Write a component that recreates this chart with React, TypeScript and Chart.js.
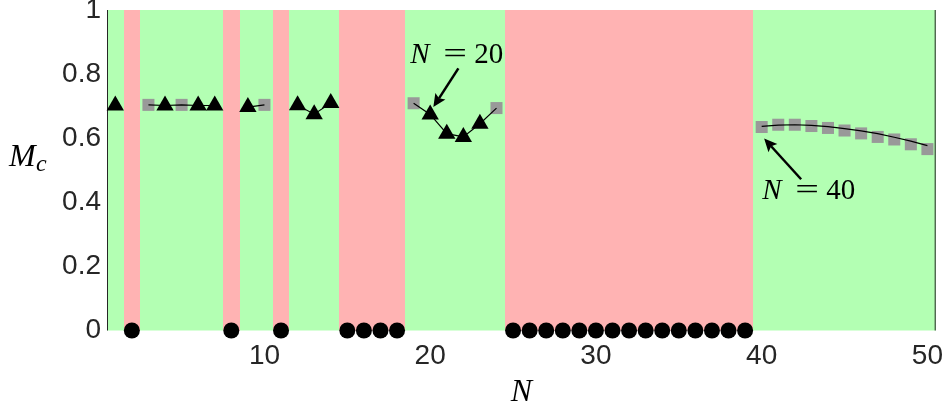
import { useEffect, useRef } from "react";
import { Chart, registerables } from "chart.js";

Chart.register(...registerables);

// ---- data ----
const X_MIN = 0.5;
const X_MAX = 50.5;
const X_TICKS = [10, 20, 30, 40, 50];
const Y_TICKS = [0, 0.2, 0.4, 0.6, 0.8, 1];

// N values whose band is red (Mc = 0, black circles)
const UNSTABLE_N = [2, 8, 11, 15, 16, 17, 18, 25, 26, 27, 28, 29, 30, 31, 32, 33, 34, 35, 36, 37, 38, 39];

// black triangles
const TRIANGLE_N = [1, 4, 6, 7, 9, 12, 13, 14, 20, 21, 22, 23];
const TRIANGLE_MC = [0.702, 0.702, 0.702, 0.702, 0.697, 0.703, 0.675, 0.71, 0.674, 0.614, 0.604, 0.645];

// gray squares
const SQUARE_N = [3, 5, 10, 19, 24, 40, 41, 42, 43, 44, 45, 46, 47, 48, 49, 50];
const SQUARE_MC = [0.704, 0.704, 0.704, 0.709, 0.694, 0.635, 0.642, 0.642, 0.638, 0.632, 0.624, 0.615, 0.604, 0.596, 0.581, 0.566];

// connected runs of points (black thin line)
const LINE_GROUPS = [
  [3, 4, 5, 6, 7],
  [9, 10],
  [12, 13, 14],
  [19, 20, 21, 22, 23, 24],
];
// smooth fitted curve for N = 40..50
const FIT_N = [40, 41, 42, 43, 44, 45, 46, 47, 48, 49, 50];
const FIT_MC = [0.637, 0.641, 0.642, 0.64, 0.636, 0.63, 0.623, 0.614, 0.603, 0.591, 0.577];

// annotations: text anchor (left, baseline), arrow tail and tip (data coords)
const ANNOTATIONS = [
  { label: "20", textX: 18.79, textY: 0.836, tailX: 21.7, tailY: 0.818, tipX: 20.19, tipY: 0.697 },
  { label: "40", textX: 40.03, textY: 0.4096, tailX: 42.38, tailY: 0.472, tipX: 40.15, tipY: 0.599 },
];

const GREEN = "rgb(179,255,179)";
const RED = "rgb(255,179,179)";
const AXIS_COLOR = "#262626";
const TICK_FONT = "'Liberation Sans', Arial, Helvetica, sans-serif";
const MATH_FONT = "'Liberation Serif', 'Times New Roman', serif";

function valueAt(n: number): number | null {
  const ti = TRIANGLE_N.indexOf(n);
  if (ti >= 0) return TRIANGLE_MC[ti];
  const si = SQUARE_N.indexOf(n);
  if (si >= 0) return SQUARE_MC[si];
  return null;
}

function buildLineData() {
  const pts: { x: number; y: number | null }[] = [];
  LINE_GROUPS.forEach((g) => {
    g.forEach((n) => pts.push({ x: n, y: valueAt(n) }));
    pts.push({ x: g[g.length - 1] + 0.5, y: null });
  });
  FIT_N.forEach((n, i) => pts.push({ x: n, y: FIT_MC[i] }));
  return pts;
}

const bandsPlugin = {
  id: "bands",
  beforeDatasetsDraw(chart: any) {
    const { ctx, chartArea, scales } = chart;
    const x = scales.x;
    const y = scales.y;
    const top = y.getPixelForValue(1);
    const bottom = y.getPixelForValue(0);
    ctx.save();
    const first = Math.ceil(X_MIN);
    const last = Math.floor(X_MAX);
    let runStart = first;
    let runRed = UNSTABLE_N.includes(first);
    for (let n = first + 1; n <= last + 1; n++) {
      const isRed = n <= last ? UNSTABLE_N.includes(n) : !runRed;
      if (isRed !== runRed) {
        const x0 = Math.round(x.getPixelForValue(runStart - 0.5));
        const x1 = Math.round(x.getPixelForValue(n - 0.5));
        ctx.fillStyle = runRed ? RED : GREEN;
        ctx.fillRect(x0, top, x1 - x0, bottom - top);
        runStart = n;
        runRed = isRed;
      }
    }
    // left & right axis lines
    ctx.strokeStyle = AXIS_COLOR;
    ctx.lineWidth = 1;
    ctx.beginPath();
    ctx.moveTo(chartArea.left + 0.5, chartArea.top);
    ctx.lineTo(chartArea.left + 0.5, chartArea.bottom);
    ctx.moveTo(chartArea.right - 0.5, chartArea.top);
    ctx.lineTo(chartArea.right - 0.5, chartArea.bottom);
    ctx.stroke();
    ctx.restore();
  },
  afterDraw(chart: any) {
    const { ctx, chartArea, scales } = chart;
    const x = scales.x;
    const y = scales.y;
    ctx.save();
    ctx.fillStyle = "#000";
    ctx.textBaseline = "alphabetic";

    // y-axis title M_c
    const midY = (chartArea.top + chartArea.bottom) / 2;
    ctx.font = `italic 32px ${MATH_FONT}`;
    ctx.textAlign = "left";
    ctx.fillText("M", chartArea.left - 98, midY - 4);
    ctx.font = `italic 24px ${MATH_FONT}`;
    ctx.fillText("c", chartArea.left - 71, midY + 1);

    // x-axis title N
    ctx.font = `italic 32px ${MATH_FONT}`;
    ctx.textAlign = "center";
    ctx.fillText("N", (chartArea.left + chartArea.right) / 2, chartArea.bottom + 70);

    // annotations
    ANNOTATIONS.forEach((a) => {
      const tx = x.getPixelForValue(a.textX);
      const ty = y.getPixelForValue(a.textY);
      ctx.textAlign = "left";
      ctx.font = `italic 29px ${MATH_FONT}`;
      ctx.fillText("N", tx, ty);
      ctx.font = `29px ${MATH_FONT}`;
      ctx.save();
      ctx.translate(tx + 33, ty);
      ctx.scale(1.45, 1);
      ctx.fillText("=", 0, 0);
      ctx.restore();
      ctx.fillText(a.label, tx + 64, ty);

      const x0 = x.getPixelForValue(a.tailX);
      const y0 = y.getPixelForValue(a.tailY);
      const x1 = x.getPixelForValue(a.tipX);
      const y1 = y.getPixelForValue(a.tipY);
      const ang = Math.atan2(y1 - y0, x1 - x0);
      const headLen = 13;
      const headW = 6;
      const bx = x1 - Math.cos(ang) * headLen * 0.8;
      const by = y1 - Math.sin(ang) * headLen * 0.8;
      ctx.strokeStyle = "#000";
      ctx.lineWidth = 2.5;
      ctx.beginPath();
      ctx.moveTo(x0, y0);
      ctx.lineTo(bx, by);
      ctx.stroke();
      const hx = x1 - Math.cos(ang) * headLen;
      const hy = y1 - Math.sin(ang) * headLen;
      const px = -Math.sin(ang);
      const py = Math.cos(ang);
      ctx.beginPath();
      ctx.moveTo(x1, y1);
      ctx.lineTo(hx + px * headW, hy + py * headW);
      ctx.lineTo(bx, by);
      ctx.lineTo(hx - px * headW, hy - py * headW);
      ctx.closePath();
      ctx.fillStyle = "#000";
      ctx.fill();
    });
    ctx.restore();
  },
};

export default function App() {
  const ref = useRef<HTMLCanvasElement | null>(null);

  useEffect(() => {
    if (!ref.current) return;
    const chart = new Chart(ref.current, {
      type: "scatter",
      data: {
        datasets: [
          {
            label: "unstable",
            data: UNSTABLE_N.map((n) => ({ x: n, y: 0 })),
            pointStyle: "circle",
            pointRadius: 8,
            backgroundColor: "#000",
            borderColor: "#000",
            borderWidth: 0,
            clip: false,
            order: 0,
          } as any,
          {
            label: "triangles",
            data: TRIANGLE_N.map((n, i) => ({ x: n, y: TRIANGLE_MC[i] })),
            pointStyle: "triangle",
            pointRadius: 10,
            backgroundColor: "#000",
            borderColor: "#000",
            borderWidth: 0,
            clip: false,
            order: 1,
          } as any,
          {
            type: "line",
            label: "line",
            data: buildLineData(),
            borderColor: "#000",
            borderWidth: 1.2,
            pointRadius: 0,
            showLine: true,
            spanGaps: false,
            tension: 0,
            fill: false,
            order: 2,
          } as any,
          {
            label: "squares",
            data: SQUARE_N.map((n, i) => ({ x: n, y: SQUARE_MC[i] })),
            pointStyle: "rect",
            pointRadius: 8.5,
            backgroundColor: "rgb(153,153,153)",
            borderColor: "rgb(153,153,153)",
            borderWidth: 0,
            clip: false,
            order: 3,
          } as any,
        ],
      },
      options: {
        animation: false,
        responsive: false,
        events: [],
        layout: { padding: { left: 0, right: 11.3, top: 7, bottom: 0 } },
        plugins: {
          legend: { display: false },
          tooltip: { enabled: false },
          title: { display: false },
        },
        scales: {
          x: {
            type: "linear",
            min: X_MIN,
            max: X_MAX,
            grid: { display: false, drawTicks: false },
            border: { display: false },
            afterBuildTicks: (s: any) => {
              s.ticks = X_TICKS.map((v) => ({ value: v }));
            },
            afterFit: (s: any) => {
              s.height = 75.5;
              s.paddingLeft = 0;
              s.paddingRight = 0;
            },
            ticks: {
              autoSkip: false,
              maxRotation: 0,
              padding: 9,
              color: AXIS_COLOR,
              font: { family: TICK_FONT, size: 28 },
              callback: (v: any) => String(v),
            },
          },
          y: {
            type: "linear",
            min: 0,
            max: 1,
            grid: { display: false, drawTicks: false },
            border: { display: false },
            afterBuildTicks: (s: any) => {
              s.ticks = Y_TICKS.map((v) => ({ value: v }));
            },
            afterFit: (s: any) => {
              s.width = 107;
              s.paddingTop = 0;
              s.paddingBottom = 0;
            },
            ticks: {
              autoSkip: false,
              padding: 6,
              color: AXIS_COLOR,
              font: { family: TICK_FONT, size: 28 },
              callback: (v: any) => String(Math.round(v * 10) / 10),
            },
          },
        },
      },
      plugins: [bandsPlugin],
    } as any);
    return () => chart.destroy();
  }, []);

  return (
    <div style={{ position: "fixed", left: 0, top: 0, width: 947, height: 406, background: "#fff" }}>
      <canvas ref={ref} width={947} height={406} />
    </div>
  );
}
